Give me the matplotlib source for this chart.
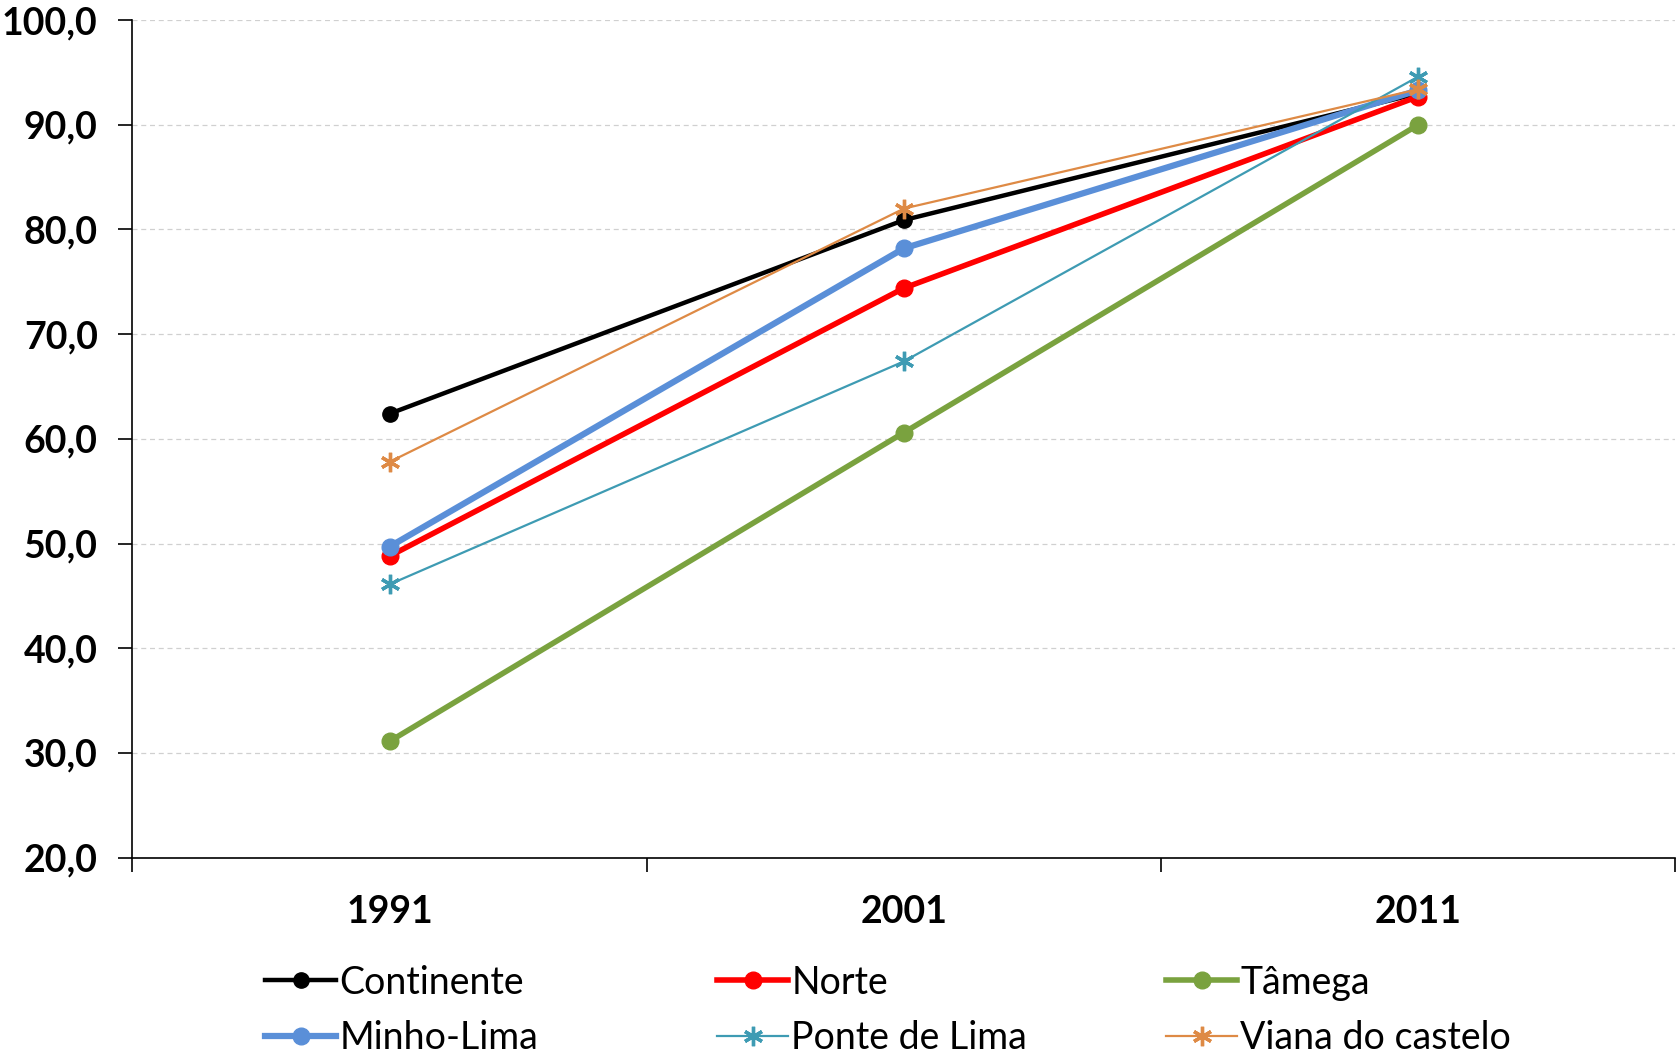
import matplotlib.pyplot as plt
from matplotlib.ticker import FuncFormatter

plt.rcParams['font.family'] = ['Lato', 'DejaVu Sans']

years = ["1991", "2001", "2011"]
continente = [62.4, 80.9, 93.0]
norte = [48.8, 74.4, 92.7]
tamega = [31.1, 60.6, 90.0]
minho_lima = [49.7, 78.2, 93.3]
ponte_de_lima = [46.1, 67.4, 94.6]
viana_castelo = [57.8, 82.0, 93.4]

asterisk = (6, 2, 0)
series = [
    ("Continente", continente, "black", 3.2, "o", 11),
    ("Norte", norte, "#FF0000", 4.0, "o", 12),
    ("Tâmega", tamega, "#7AA23F", 4.0, "o", 12),
    ("Minho-Lima", minho_lima, "#5A8FD8", 4.5, "o", 12),
    ("Ponte de Lima", ponte_de_lima, "#3E9BB3", 1.6, asterisk, 14),
    ("Viana do castelo", viana_castelo, "#DE8A45", 1.6, asterisk, 14),
]

fig = plt.figure(figsize=(16.77, 10.6), dpi=100)
ax = fig.add_axes([0.079, 0.191, 0.92, 0.79])

x = range(len(years))
lines = []
for name, vals, color, lw, mk, ms in series:
    ln, = ax.plot(x, vals, color=color, linewidth=lw, marker=mk, markersize=ms,
                  markeredgewidth=2.4 if mk == asterisk else 1, label=name)
    lines.append(ln)

ax.set_ylim(20, 100)
ax.set_xlim(-0.5, 2.5)
ax.set_yticks(range(20, 101, 10))
ax.yaxis.set_major_formatter(FuncFormatter(lambda v, p: f"{v:.1f}".replace(".", ",")))
ax.set_xticks([-0.5, 0.5, 1.5, 2.5])
ax.set_xticklabels([])
ax.set_xticks(list(x), minor=True)
ax.set_xticklabels(years, minor=True)
ax.tick_params(axis="x", which="major", length=10, width=1.2, direction="out")
ax.tick_params(axis="x", which="minor", length=0, pad=27, labelsize=27)
ax.tick_params(axis="y", length=10, width=1.2, direction="out", labelsize=27, pad=15)
for lbl in ax.get_xticklabels(minor=True) + ax.get_yticklabels():
    lbl.set_fontweight("bold")

ax.grid(axis="y", linestyle=(0, (4, 3)), color="#D0D0D0", linewidth=0.9)
ax.set_axisbelow(True)
for s in ["top", "right"]:
    ax.spines[s].set_visible(False)
ax.spines["left"].set_linewidth(1.2)
ax.spines["bottom"].set_linewidth(1.2)

# legend: three evenly spaced columns of two entries each
col_x = [265 / 1677, 717 / 1677, 1166 / 1677]
for c, xpos in enumerate(col_x):
    idx = [c, c + 3]
    leg = fig.legend([lines[i] for i in idx], [series[i][0] for i in idx],
                     loc="upper left", bbox_to_anchor=(xpos, 0.090), frameon=False,
                     fontsize=27, handlelength=1.9, handletextpad=0.08,
                     labelspacing=0.52, borderaxespad=0, borderpad=0)

fig.savefig("out.png", dpi=100)
